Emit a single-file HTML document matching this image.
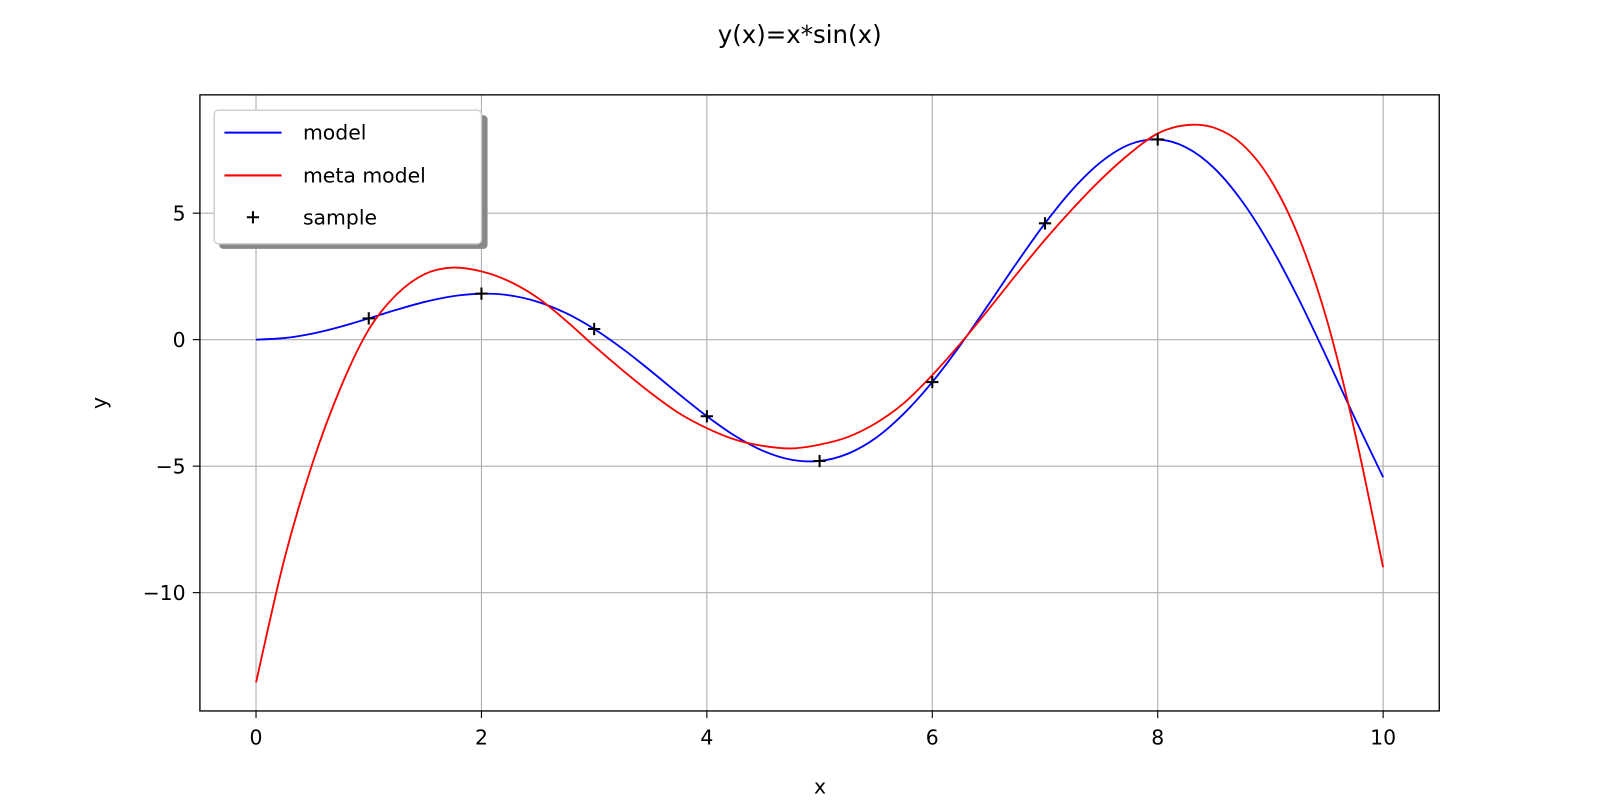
<!DOCTYPE html>
<html><head><meta charset="utf-8"><style>
body{margin:0;background:#fff;}
svg{display:block;font-family:"DejaVu Sans","Liberation Sans",sans-serif;}
</style></head><body>
<svg id="chart" width="1600" height="800" viewBox="0 0 1568.6 784.3">
<text x="784" y="42" font-size="24" text-anchor="middle">y(x)=x*sin(x)</text>
<g id="grid"></g>
<g id="series"></g>
<rect x="196" y="93" width="1215" height="604" fill="none" stroke="#000" stroke-width="1.3"/>
<g id="ticks"></g>
<text x="804" y="778" font-size="20" text-anchor="middle">x</text>
<text x="104" y="395" font-size="20" text-anchor="middle" transform="rotate(-90 104 395)">y</text>
<g>
<rect x="215" y="113" width="263" height="131" rx="4" fill="#888"/>
<rect x="210" y="108" width="262" height="131" rx="4" fill="#fff" stroke="#ccc" stroke-width="1.3"/>
<line x1="220" y1="130" x2="276" y2="130" stroke="blue" stroke-width="2"/>
<text x="297" y="137" font-size="20">model</text>
<line x1="220" y1="172" x2="276" y2="172" stroke="red" stroke-width="2"/>
<text x="297" y="179" font-size="20">meta model</text>
<path d="M242 213h12M248 207v12" stroke="#000" stroke-width="2"/>
<text x="297" y="220" font-size="20">sample</text>
</g>
</svg>
<script>
const modelX=[0,0.25,0.5,0.75,1,1.25,1.5,1.75,2,2.25,2.5,2.75,3,3.25,3.5,3.75,4,4.25,4.5,4.75,5,5.25,5.5,5.75,6,6.25,6.5,6.75,7,7.25,7.5,7.75,8,8.25,8.5,8.75,9,9.25,9.5,9.75,10];
const modelY=[0,0.062,0.24,0.511,0.841,1.186,1.496,1.722,1.819,1.751,1.496,1.05,0.423,-0.352,-1.228,-2.144,-3.027,-3.804,-4.399,-4.747,-4.795,-4.509,-3.882,-2.912,-1.676,-0.208,1.398,3.038,4.599,5.967,7.035,7.717,7.915,7.606,6.785,5.462,3.709,1.612,-0.713,-3.115,-5.44];
const metaX=[0,0.25,0.5,0.75,1,1.25,1.5,1.75,2,2.25,2.5,2.75,3,3.25,3.5,3.75,4,4.25,4.5,4.75,5,5.25,5.5,5.75,6,6.25,6.5,6.75,7,7.25,7.5,7.75,8,8.25,8.5,8.75,9,9.25,9.5,9.75,10];
const metaY=[-13.55,-8.7,-4.9,-1.9,0.4,1.8,2.6,2.85,2.7,2.3,1.65,0.75,-0.25,-1.2,-2.1,-2.9,-3.5,-3.95,-4.2,-4.3,-4.15,-3.85,-3.3,-2.5,-1.4,-0.15,1.2,2.6,3.95,5.2,6.35,7.35,8.15,8.48,8.38,7.72,6.33,4.07,0.79,-3.68,-9.0];
const sampleX=[1,2,3,4,5,6,7,8];
const sampleY=[0.841,1.819,0.423,-3.027,-4.795,-1.676,4.599,7.915];
const xTicks=[0,2,4,6,8,10];
const yTicks=[5,0,-5,-10];
const yTickLabels=["5","0","\u22125","\u221210"];
const sx=v=>251+v*110.5, sy=v=>333-v*24.8;
const NS="http://www.w3.org/2000/svg";
function mk(tag,attrs,parent){const e=document.createElementNS(NS,tag);for(const k in attrs)e.setAttribute(k,attrs[k]);parent.appendChild(e);return e;}
const grid=document.getElementById('grid'),ticks=document.getElementById('ticks'),series=document.getElementById('series');
xTicks.forEach(t=>{const x=sx(t);
 const g=mk('line',{x1:x,x2:x,y1:93,y2:697,stroke:'#b0b0b0','stroke-width':1.1},grid);
 
 
 const tk=mk('line',{x1:x,x2:x,y1:697,y2:704,stroke:'#000','stroke-width':1.1},ticks);
 
 
 const l=mk('text',{x:x,y:730,'font-size':20,'text-anchor':'middle'},ticks);l.textContent=t;
 
 
});
yTicks.forEach((t,i)=>{const y=sy(t);
 const g=mk('line',{x1:196,x2:1411,y1:y,y2:y,stroke:'#b0b0b0','stroke-width':1.1},grid);
 
 
 const tk=mk('line',{x1:189,x2:196,y1:y,y2:y,stroke:'#000','stroke-width':1.1},ticks);
 
 
 const l=mk('text',{x:182,y:y+7,'font-size':20,'text-anchor':'end'},ticks);l.textContent=yTickLabels[i];
 
 
});
function smooth(xs,ys){const p=xs.map((x,i)=>[sx(x),sy(ys[i])]);let d='M'+p[0][0]+' '+p[0][1];
 for(let i=0;i<p.length-1;i++){const p0=p[i-1]||p[i],p1=p[i],p2=p[i+1],p3=p[i+2]||p2;
  d+=` C${p1[0]+(p2[0]-p0[0])/6} ${p1[1]+(p2[1]-p0[1])/6} ${p2[0]-(p3[0]-p1[0])/6} ${p2[1]-(p3[1]-p1[1])/6} ${p2[0]} ${p2[1]}`;}
 return d;}
const m=mk('path',{d:smooth(modelX,modelY),fill:'none',stroke:'blue','stroke-width':1.8},series);


const mm=mk('path',{d:smooth(metaX,metaY),fill:'none',stroke:'red','stroke-width':1.8},series);


sampleX.forEach((x,i)=>{const cx=sx(x),cy=sy(sampleY[i]);
 const s=mk('path',{d:`M${cx-6} ${cy}h12M${cx} ${cy-6}v12`,stroke:'#000','stroke-width':2},series);
 
 
});
</script>
</body></html>
